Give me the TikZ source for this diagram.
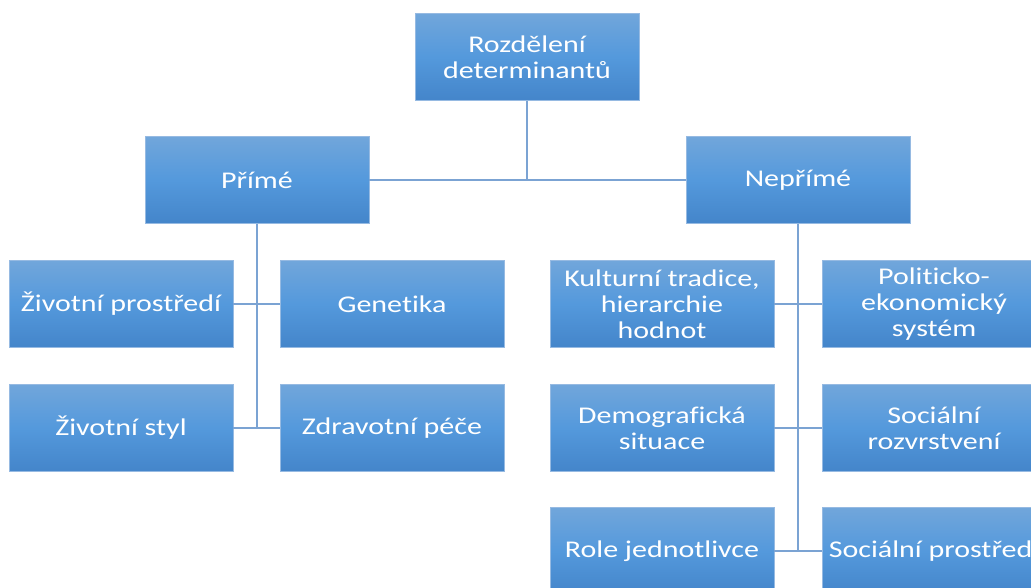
\documentclass[tikz,border=0pt]{standalone}
\usepackage{fontspec}
\setmainfont{Carlito}[FakeStretch=1.25,RawFeature={-liga;-clig;-calt;-dlig}]
\usepackage{tikz}
\usetikzlibrary{calc}

\definecolor{boxtop}{RGB}{113,166,219}
\definecolor{boxmid}{RGB}{84,153,220}
\definecolor{boxbot}{RGB}{68,133,202}
\definecolor{boxedge}{RGB}{150,186,226}
\definecolor{linkcol}{RGB}{123,163,211}

\tikzset{
  detbox/.style={rectangle, draw=boxedge, line width=0.6pt,
    top color=boxtop, bottom color=boxbot, middle color=boxmid,
    minimum width=224pt, minimum height=87pt, inner sep=0pt,
    align=center, text=white,
    font=\fontsize{24}{26}\selectfont},
  link/.style={draw=linkcol, line width=1.4pt}
}

\begin{document}
\begin{tikzpicture}[x=1pt,y=-1pt]
\path[use as bounding box, clip] (0,0) rectangle (1031,587);

\node[detbox] (root) at (527,57) {Rozdělení\\determinantů};
\node[detbox] (prime) at (257,180) {Přímé};
\node[detbox] (nonprime) at (798,180) {Nepřímé};

% primary determinants
\node[detbox] (env) at (121,304) {Životní prostředí};
\node[detbox] (gen) at (392,304) {Genetika};
\node[detbox] (life) at (121,428) {Životní styl};
\node[detbox] (care) at (392,428) {Zdravotní péče};

% indirect determinants
\node[detbox] (cult) at (662,304) {Kulturní tradice,\\hierarchie\\hodnot};
\node[detbox] (pol) at (934,304) {Politicko-\\ekonomický\\systém};
\node[detbox] (demo) at (662,428) {Demografická\\situace};
\node[detbox] (strat) at (934,428) {Sociální\\rozvrstvení};
\node[detbox] (role) at (662,551) {Role jednotlivce};
\node[detbox] (soc) at (934,551) {Sociální prostředí};

\draw[link] (root.south) -- (root.south |- prime.east);
\draw[link] (prime.east) -- (nonprime.west);

\draw[link] (prime.south) -- (prime.south |- life.east);
\draw[link] (env.east) -- (gen.west);
\draw[link] (life.east) -- (care.west);

\draw[link] (nonprime.south) -- (nonprime.south |- role.east);
\draw[link] (cult.east) -- (pol.west);
\draw[link] (demo.east) -- (strat.west);
\draw[link] (role.east) -- (soc.west);

\end{tikzpicture}
\end{document}
